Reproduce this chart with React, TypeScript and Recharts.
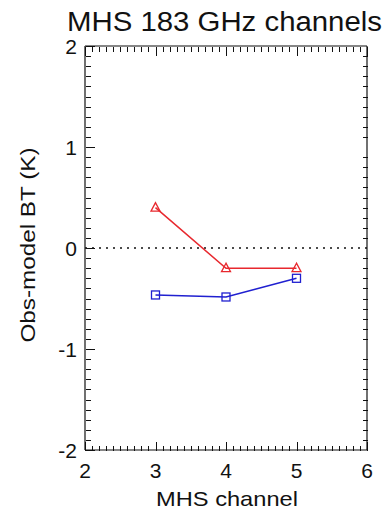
import { ComposedChart, Line, XAxis, YAxis, ReferenceLine, Scatter } from 'recharts';

const channels = [3, 4, 5];
const redDiff = [0.4, -0.2, -0.2];
const blueDiff = [-0.465, -0.485, -0.3];
const xTickLabels = [2, 3, 4, 5, 6];
const yTickLabels = [-2, -1, 0, 1, 2];

const rows = channels.map((ch, i) => ({ ch, red: redDiff[i], blue: blueDiff[i] }));

// minor ticks every 0.1 (whole numbers are the major ticks)
const xMinor = Array.from({ length: 41 }, (_, i) => (20 + i) / 10).filter((v) => v % 1 !== 0);
const yMinor = Array.from({ length: 41 }, (_, i) => (i - 20) / 10).filter((v) => v % 1 !== 0);

const bottomMinor = xMinor.map((ch) => ({ ch, val: -2 }));
const topMinor = xMinor.map((ch) => ({ ch, val: 2 }));
const leftMinor = yMinor.map((val) => ({ ch: 2, val }));
const rightMinor = yMinor.map((val) => ({ ch: 6, val }));

const FONT = '"Liberation Sans", Arial, sans-serif';
const RED = '#e8282e';
const BLUE = '#2020d0';
const INK = '#111';

type Side = 'bottom' | 'top' | 'left' | 'right';

// tick lines point into the plot, like the IDL box axes
function tickPath(side: Side, x: number, y: number, len: number) {
  const px = Math.round(Number(x)) + 0.5;
  const py = Math.round(Number(y)) + 0.5;
  if (side === 'bottom') return `M${px},${py}V${py - len}`;
  if (side === 'top') return `M${px},${py}V${py + len}`;
  if (side === 'left') return `M${px},${py}H${px + len}`;
  return `M${px},${py}H${px - len}`;
}

const minorShape = (side: Side) => (p: any) => (
  <path d={tickPath(side, p.cx, p.cy, 5)} stroke={INK} strokeWidth={1} fill="none" shapeRendering="crispEdges" />
);

function majorTick(side: Side, withLabel: boolean) {
  return (props: any) => {
    const { x, y, payload } = props;
    return (
      <g>
        <path d={tickPath(side, x, y, 9)} stroke={INK} strokeWidth={1} fill="none" shapeRendering="crispEdges" />
        {withLabel && side === 'bottom' && (
          <text x={x} y={y + 28} textAnchor="middle" fontSize={21} fontFamily={FONT} fill={INK}>
            {payload.value}
          </text>
        )}
        {withLabel && side === 'left' && (
          <text x={x - 8} y={y + 7.5} textAnchor="end" fontSize={21} fontFamily={FONT} fill={INK}>
            {payload.value}
          </text>
        )}
      </g>
    );
  };
}

const triangle = (p: any) => (
  <polygon
    key={`t-${p.index}`}
    points={`${p.cx},${p.cy - 5} ${p.cx - 4.5},${p.cy + 3.5} ${p.cx + 4.5},${p.cy + 3.5}`}
    fill="none"
    stroke={RED}
    strokeWidth={1.3}
  />
);

const square = (p: any) => (
  <rect
    key={`s-${p.index}`}
    x={p.cx - 4}
    y={p.cy - 4}
    width={8}
    height={8}
    fill="none"
    stroke={BLUE}
    strokeWidth={1.3}
  />
);

const axisCommon = { tickSize: 0, tickMargin: 0, tickLine: false, interval: 0 as const };

export default function App() {
  return (
    <div style={{ position: 'absolute', left: 0, top: 0, width: 385, height: 509, background: '#fff' }}>
      <ComposedChart
        width={385}
        height={509}
        data={rows}
        margin={{ top: 45, right: 17, bottom: 58, left: 84 }}
      >
        <XAxis xAxisId="b" type="number" dataKey="ch" domain={[2, 6]} ticks={xTickLabels} height={1}
          axisLine={{ stroke: INK, strokeWidth: 1.2 }} tick={majorTick('bottom', true)} {...axisCommon} />
        <XAxis xAxisId="t" orientation="top" type="number" dataKey="ch" domain={[2, 6]} ticks={xTickLabels} height={1}
          axisLine={{ stroke: INK, strokeWidth: 1.2 }} tick={majorTick('top', false)} {...axisCommon} />
        <YAxis yAxisId="l" type="number" domain={[-2, 2]} ticks={yTickLabels} width={1}
          axisLine={{ stroke: INK, strokeWidth: 1.2 }} tick={majorTick('left', true)} {...axisCommon} />
        <YAxis yAxisId="r" orientation="right" type="number" domain={[-2, 2]} ticks={yTickLabels} width={1}
          axisLine={{ stroke: INK, strokeWidth: 1.2 }} tick={majorTick('right', false)} {...axisCommon} />
        <Scatter xAxisId="b" yAxisId="l" data={bottomMinor} dataKey="val" shape={minorShape('bottom')} isAnimationActive={false} />
        <Scatter xAxisId="b" yAxisId="l" data={topMinor} dataKey="val" shape={minorShape('top')} isAnimationActive={false} />
        <Scatter xAxisId="b" yAxisId="l" data={leftMinor} dataKey="val" shape={minorShape('left')} isAnimationActive={false} />
        <Scatter xAxisId="b" yAxisId="l" data={rightMinor} dataKey="val" shape={minorShape('right')} isAnimationActive={false} />
        <ReferenceLine xAxisId="b" yAxisId="l" y={0} stroke={INK} strokeWidth={1.6} strokeDasharray="2 5" />
        <Line xAxisId="b" yAxisId="l" dataKey="red" stroke={RED} strokeWidth={1.5} dot={triangle} isAnimationActive={false} />
        <Line xAxisId="b" yAxisId="l" dataKey="blue" stroke={BLUE} strokeWidth={1.5} dot={square} isAnimationActive={false} />
      </ComposedChart>
      <svg width={385} height={509} style={{ position: 'absolute', left: 0, top: 0, pointerEvents: 'none' }}>
        <text x={67} y={31} fontSize={27} fontFamily={FONT} fill={INK} textLength={315} lengthAdjust="spacingAndGlyphs">
          MHS 183 GHz channels
        </text>
        <text x={227} y={506} textAnchor="middle" fontSize={21} fontFamily={FONT} fill={INK} textLength={142} lengthAdjust="spacingAndGlyphs">
          MHS channel
        </text>
        <text
          x={35}
          y={245}
          textAnchor="middle"
          fontSize={21}
          fontFamily={FONT}
          fill={INK}
          transform="rotate(-90 35 245)"
          textLength={195}
          lengthAdjust="spacingAndGlyphs"
        >
          Obs-model BT (K)
        </text>
      </svg>
    </div>
  );
}
